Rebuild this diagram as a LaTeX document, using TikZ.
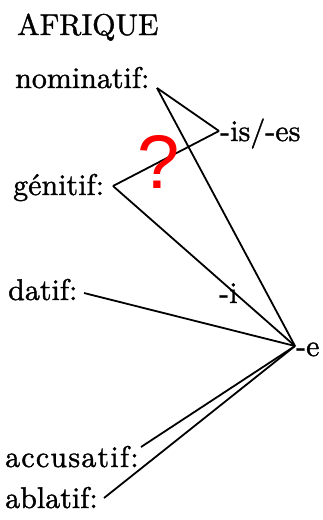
\documentclass[tikz,border=0pt]{standalone}
\usepackage{fontspec}
\newfontfamily\qfont{Liberation Sans}
\newfontfamily\casfont[Extension=.otf,FakeBold=1.2]{lmroman10-regular}
\usetikzlibrary{positioning}
\tikzset{
  cas/.style={font=\casfont\fontsize{30}{36}\selectfont,inner sep=0pt,anchor=base west},
  ln/.style={line width=1.8pt,black},
  doute/.style={font=\qfont\fontsize{76}{80}\selectfont,text=red,inner sep=0pt,anchor=base},
}
\begin{document}
\begin{tikzpicture}[x=1pt,y=-1pt]
    \useasboundingbox (0,0) rectangle (323,520);
    \node[cas] (titre) at (17,35) {AFRIQUE};
    \node[cas] (nom) at (15,88) {nominatif:};
    \node[cas] (gen) at (13,195) {génitif:};
    \node[cas] (dat) at (8,300) {datif:};
    \node[cas] (acc) at (5,467) {\addfontfeature{LetterSpace=4}accusatif:};
    \node[cas] (abl) at (5,508) {ablatif:};
    \coordinate (pnom) at (157,88);
    \coordinate (pgen) at (113,186);
    \coordinate (pdat) at (84,293);
    \coordinate (pacc) at (141,447);
    \coordinate (pabl) at (104,498);
    \coordinate (jis) at (219,131);
    \coordinate (je) at (295,346);
    \node[cas] (is) at (220,141) {-is/-es};
    \node[cas] (i) at (219,303) {-i};
    \node[cas] (e) at (296,356) {-e};
    \draw[ln](pnom)--(jis);
    \draw[ln](pgen)--(jis);
    \draw[ln](pnom)--(je);
    \draw[ln](pgen)--(je);
    \draw[ln](pdat)--(je);
    \draw[ln](pacc)--(je);
    \draw[ln](pabl)--(je);
    \node[doute] (q) at (159,188) {?};
  \end{tikzpicture}
\end{document}
